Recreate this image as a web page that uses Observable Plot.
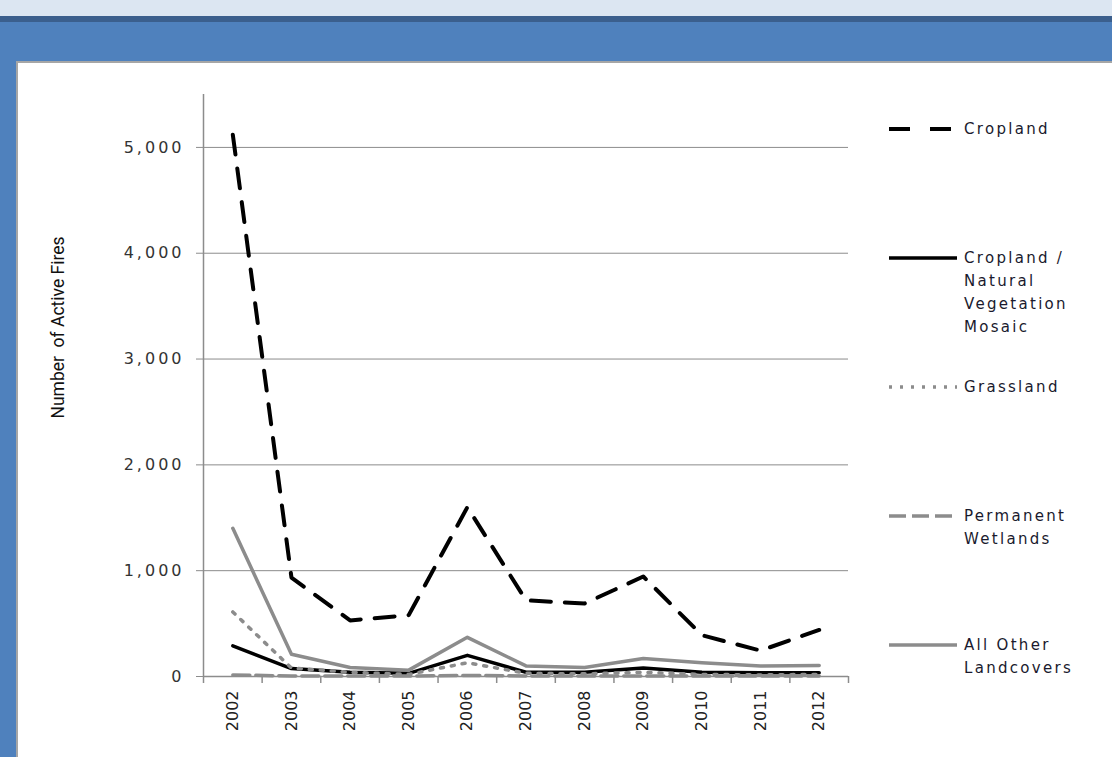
<!DOCTYPE html>
<html>
<head>
<meta charset="utf-8">
<script src="https://cdn.jsdelivr.net/npm/d3@7"></script>
<script src="https://cdn.jsdelivr.net/npm/@observablehq/plot@0.6"></script>
<style>
  html, body { margin: 0; padding: 0; }
  body { width: 1112px; height: 757px; background: #4f81bd; position: relative; overflow: hidden; }
  #topband { position: absolute; left: 0; top: 0; width: 1112px; height: 16px; background: #dce6f2; }
  #darkband { position: absolute; left: 0; top: 16px; width: 1112px; height: 6px; background: #3b5f8d; }
  #panel { position: absolute; left: 16px; top: 61px; width: 1094px; height: 694px; background: #fff;
           border-left: 2px solid #a6a6a6; border-top: 2px solid #a6a6a6; }
  #chart { position: absolute; left: 0; top: 0; }
  #chart svg { background: transparent; }
  g[aria-label="y-axis tick label"] text { letter-spacing: 3px; }
  #legend { position: absolute; left: 0; top: 0; }
</style>
</head>
<body>
<div id="topband"></div>
<div id="darkband"></div>
<div id="panel"></div>
<div id="chart"></div>
<div id="legend"></div>
<script>
const years = [2002, 2003, 2004, 2005, 2006, 2007, 2008, 2009, 2010, 2011, 2012];
const yTicks = [0, 1000, 2000, 3000, 4000, 5000];
const cropland = [5120, 935, 530, 580, 1600, 720, 690, 945, 390, 245, 440];
const mosaic = [290, 75, 40, 30, 200, 40, 40, 80, 40, 35, 35];
const grassland = [610, 80, 40, 20, 130, 30, 25, 40, 20, 15, 20];
const wetlands = [15, 5, 5, 5, 10, 5, 5, 5, 5, 5, 5];
const otherLand = [1400, 210, 85, 60, 370, 100, 85, 170, 130, 100, 105];
const seriesNames = ["Cropland", "Cropland /\nNatural\nVegetation\nMosaic", "Grassland", "Permanent\nWetlands", "All Other\nLandcovers"];

const styles = [
  {stroke: "#000", strokeWidth: 4, strokeDasharray: "20,14", legendDash: "21,20"},
  {stroke: "#000", strokeWidth: 3.5, strokeDasharray: null, legendDash: null},
  {stroke: "#8c8c8c", strokeWidth: 3.5, strokeDasharray: "3,8", legendDash: "3,8"},
  {stroke: "#8c8c8c", strokeWidth: 3.5, strokeDasharray: "17,6", legendDash: "17,6"},
  {stroke: "#8c8c8c", strokeWidth: 3.5, strokeDasharray: null, legendDash: null}
];
const seriesValues = [cropland, mosaic, grassland, wetlands, otherLand];

const boundaries = [years[0] - 0.5, ...years.map(y => y + 0.5)];

const lineMarks = seriesValues.map((vals, i) => {
  const data = years.map((y, j) => ({year: y, value: vals[j]}));
  const s = styles[i];
  const opts = {x: "year", y: "value", stroke: s.stroke, strokeWidth: s.strokeWidth, strokeLinejoin: "round"};
  if (s.strokeDasharray) opts.strokeDasharray = s.strokeDasharray;
  return Plot.line(data, opts);
});

const chart = Plot.plot({
  width: 1112,
  height: 757,
  marginLeft: 203,
  marginRight: 264,
  marginTop: 94,
  marginBottom: 81,
  style: {fontFamily: "'DejaVu Sans', sans-serif", fontSize: "16px", color: "#333", background: "transparent"},
  x: {type: "linear", domain: [boundaries[0], boundaries[boundaries.length - 1]], axis: null},
  y: {domain: [0, 5500], axis: null},
  marks: [
    Plot.ruleY(yTicks.filter(d => d > 0), {stroke: "#8c8c8c", strokeWidth: 1}),
    Plot.axisY(yTicks, {tickFormat: d3.format(","), tickSize: 7, tickPadding: 12, stroke: "#8c8c8c", label: null, fill: "#333"}),
    Plot.axisX(years, {tickFormat: d => String(d), tickSize: 0, tickRotate: -90, tickPadding: 14, label: null, fill: "#222"}),
    Plot.ruleX(boundaries, {y1: 0, y2: 0, insetBottom: -7, stroke: "#8c8c8c", strokeWidth: 1.5}),
    Plot.ruleX([boundaries[0]], {stroke: "#8c8c8c", strokeWidth: 1.5}),
    Plot.ruleY([0], {stroke: "#8c8c8c", strokeWidth: 1.5}),
    ...lineMarks,
    Plot.text(["Number  of Active Fires"], {frameAnchor: "left", dx: -145, dy: -58, rotate: -90, textAnchor: "middle",
      fontFamily: "Roboto, sans-serif", fontSize: 17.5, fill: "#111"})
  ]
});
document.getElementById("chart").appendChild(chart);

// Legend
const legend = d3.select("#legend").append("svg").attr("width", 1112).attr("height", 757)
  .style("font-family", "'DejaVu Sans', sans-serif").style("font-size", "15px");
const legendTop = 129, legendStep = 129, lineH = 23;
seriesNames.forEach((name, i) => {
  const y = legendTop + i * legendStep;
  const s = styles[i];
  const ln = legend.append("line").attr("x1", 889).attr("x2", 957).attr("y1", y).attr("y2", y)
    .attr("stroke", s.stroke).attr("stroke-width", s.strokeWidth);
  if (s.legendDash) ln.attr("stroke-dasharray", s.legendDash);
  const t = legend.append("text").attr("x", 964).attr("y", y).attr("fill", "#1a1a2e")
    .style("letter-spacing", "2.3px").attr("dominant-baseline", "middle");
  name.split("\n").forEach((part, k) => {
    t.append("tspan").attr("x", 964).attr("y", y + k * lineH).text(part);
  });
});
</script>
</body>
</html>
